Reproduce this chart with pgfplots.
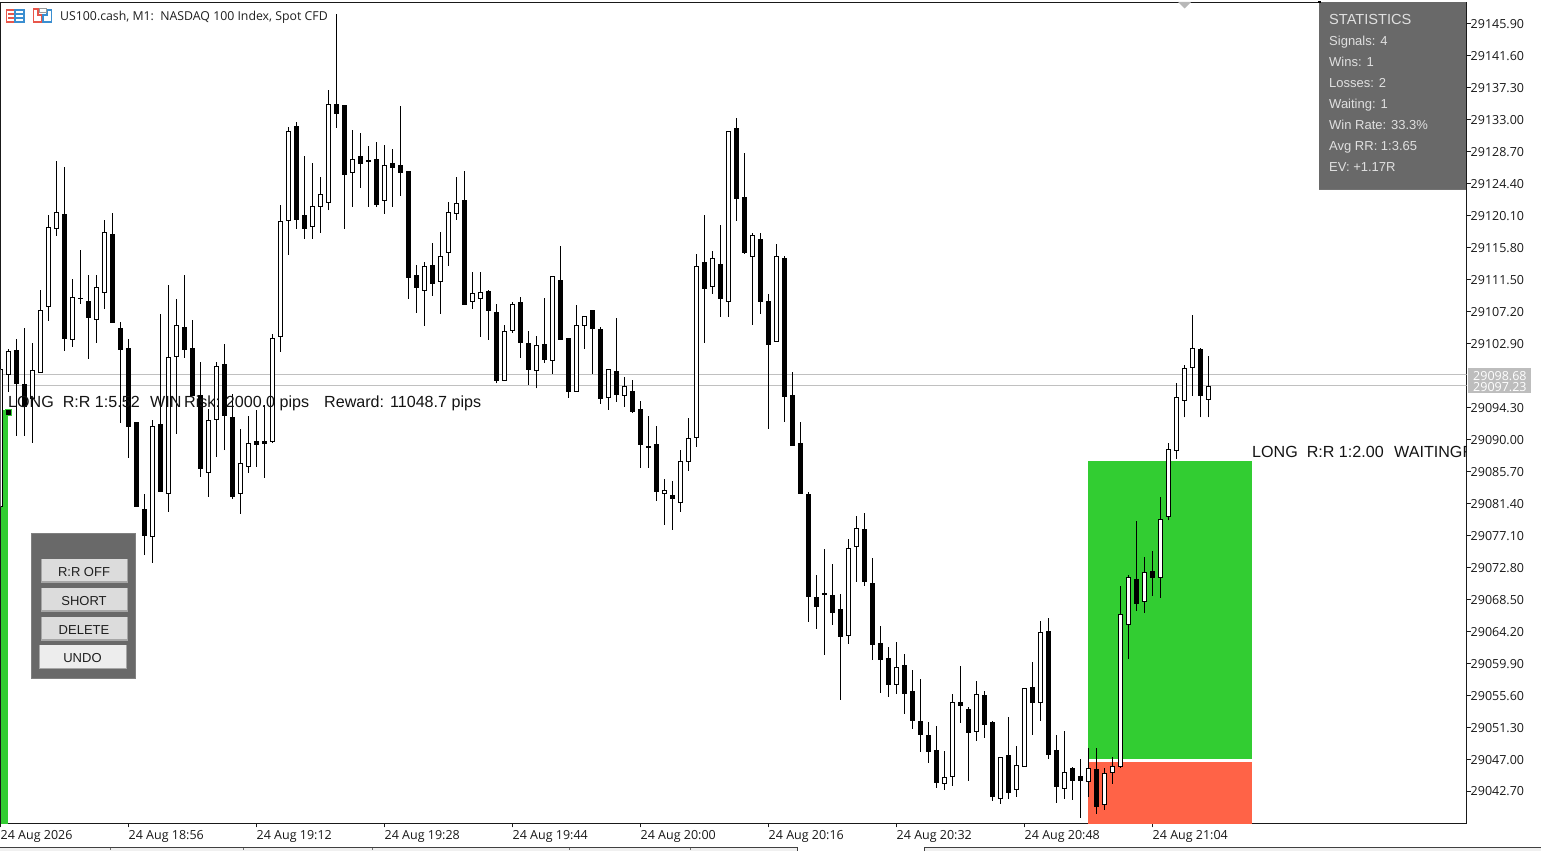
\documentclass[border=0pt]{standalone}
\usepackage{pgfplots}
\usepackage{pgfplotstable}
\usepackage{fontspec}
\pgfplotsset{compat=1.18}
\setmainfont{Liberation Sans}
\newfontfamily\tah{Open Sans}
\definecolor{grn}{HTML}{32CD32}
\definecolor{tom}{HTML}{FF6347}
\definecolor{dimg}{HTML}{696969}
\definecolor{btn}{HTML}{DCDCDC}
\definecolor{pl}{HTML}{C0C0C0}
\definecolor{tag}{HTML}{BDBDBD}
\definecolor{icr}{HTML}{E8564A}
\definecolor{icb}{HTML}{3B8ED0}
\pgfplotstableread{
k open high low close
0 29080.95 29100.42 29080.91 29099.44
1 29098.77 29102.13 29096.43 29101.90
4 29095.49 29102.94 29089.57 29099.31
5 29099.04 29110.11 29099.04 29107.38
6 29107.86 29120.20 29105.98 29118.55
7 29118.41 29127.47 29117.42 29120.57
9 29103.42 29111.59 29102.48 29109.13
10 29108.97 29115.49 29108.27 29109.03
12 29106.17 29112.13 29103.02 29110.47
13 29109.80 29119.53 29107.59 29117.87
19 29076.92 29092.62 29073.42 29091.77
21 29082.70 29110.78 29080.28 29101.05
22 29101.14 29108.90 29090.74 29105.36
26 29085.53 29094.10 29082.30 29092.58
27 29092.71 29100.38 29087.68 29099.84
30 29082.70 29091.41 29080.01 29086.79
31 29086.34 29093.16 29085.53 29089.48
34 29089.66 29104.15 29089.52 29103.61
35 29103.83 29121.55 29101.81 29119.35
36 29119.49 29132.04 29114.82 29131.46
39 29118.63 29127.20 29117.01 29121.37
40 29121.37 29125.31 29117.82 29122.99
41 29121.91 29137.02 29120.87 29135.10
44 29125.89 29131.64 29121.32 29127.70
46 29127.40 29129.49 29121.32 29127.47
48 29122.18 29129.62 29120.38 29126.89
53 29110.07 29113.84 29105.31 29113.30
55 29111.28 29117.87 29106.92 29114.64
56 29115.18 29121.95 29113.38 29120.57
57 29120.43 29125.31 29119.57 29121.78
59 29108.59 29112.53 29107.59 29109.67
60 29108.99 29112.53 29103.83 29109.80
63 29097.96 29105.40 29097.96 29104.55
64 29104.63 29108.50 29104.37 29108.19
67 29099.31 29103.92 29096.88 29102.67
69 29100.65 29111.90 29098.85 29111.90
72 29096.43 29108.09 29096.43 29105.36
73 29105.31 29106.57 29102.21 29106.57
76 29095.62 29099.44 29094.01 29099.44
78 29095.94 29098.40 29094.41 29097.15
83 29082.76 29084.68 29078.53 29083.11
85 29081.55 29088.58 29080.28 29087.06
86 29087.06 29092.89 29085.80 29090.16
87 29090.29 29114.95 29089.03 29113.30
89 29110.61 29115.36 29109.61 29114.38
91 29108.54 29131.46 29106.52 29131.46
94 29114.64 29117.74 29105.44 29117.47
97 29103.21 29116.26 29103.21 29114.64
103 29069.14 29075.22 29061.04 29069.21
106 29063.65 29076.57 29062.52 29075.36
107 29075.63 29079.66 29070.86 29078.05
112 29057.06 29062.71 29055.79 29059.34
118 29043.74 29048.08 29042.88 29044.54
119 29044.68 29055.71 29043.41 29054.64
122 29050.68 29057.50 29049.47 29055.71
125 29041.72 29047.24 29040.99 29047.24
127 29042.93 29048.76 29041.94 29046.16
128 29046.00 29056.52 29046.00 29056.52
130 29054.64 29065.57 29052.16 29064.05
133 29043.01 29050.77 29041.67 29045.22
136 29043.95 29048.49 29041.94 29045.75
138 29040.91 29045.80 29040.19 29045.08
139 29045.16 29047.28 29043.68 29046.03
140 29045.97 29070.24 29045.84 29066.48
141 29065.08 29071.72 29060.50 29071.45
143 29068.17 29074.15 29066.69 29072.13
145 29071.40 29082.26 29068.71 29079.26
146 29079.61 29089.48 29079.16 29088.62
147 29088.54 29097.56 29087.41 29095.67
148 29095.27 29099.98 29092.98 29099.58
149 29099.71 29106.75 29095.85 29102.27
151 29095.40 29101.19 29092.98 29097.15
}\bull
\pgfplotstableread{
k open high low close
2 29102.00 29103.48 29090.51 29097.50
3 29097.42 29104.96 29090.51 29094.41
8 29120.20 29126.66 29101.94 29103.52
11 29108.59 29112.13 29100.87 29106.38
14 29117.51 29120.47 29105.71 29105.71
15 29104.96 29105.80 29092.26 29102.08
16 29102.27 29103.52 29087.55 29091.72
17 29092.31 29092.31 29080.95 29080.95
18 29080.64 29082.66 29074.45 29077.05
20 29091.95 29106.84 29082.97 29082.97
23 29105.13 29112.13 29101.00 29102.08
24 29102.27 29106.07 29095.98 29095.98
25 29095.85 29100.42 29084.99 29086.03
28 29100.02 29102.84 29088.58 29093.20
29 29093.02 29096.12 29081.99 29082.26
32 29089.66 29093.96 29086.34 29089.30
33 29089.79 29094.64 29084.82 29089.39
37 29132.04 29132.71 29118.36 29119.53
38 29120.07 29128.14 29117.01 29118.36
42 29135.10 29147.25 29131.95 29133.83
43 29134.96 29135.00 29118.36 29125.68
45 29128.10 29131.23 29123.88 29127.16
47 29127.70 29130.02 29121.32 29121.59
49 29127.06 29129.08 29121.32 29126.57
50 29126.89 29134.87 29122.80 29125.89
51 29126.08 29126.08 29108.94 29111.77
52 29112.09 29113.43 29107.06 29110.42
54 29113.43 29116.43 29109.34 29110.96
58 29122.18 29126.08 29108.19 29108.19
61 29109.94 29110.11 29103.42 29107.33
62 29107.11 29108.23 29097.56 29097.91
65 29108.46 29109.17 29101.00 29103.02
66 29102.94 29104.59 29097.33 29099.39
68 29102.80 29108.99 29100.33 29100.73
70 29111.42 29116.03 29103.42 29103.42
71 29103.61 29103.61 29095.62 29096.43
74 29107.38 29107.42 29098.85 29104.90
75 29104.73 29105.09 29094.81 29095.49
77 29099.17 29106.34 29095.08 29096.02
79 29096.48 29098.00 29093.60 29093.74
80 29094.06 29095.18 29086.20 29089.30
81 29089.12 29093.16 29086.20 29088.89
82 29089.35 29091.81 29081.76 29082.97
84 29082.49 29084.41 29077.86 29082.03
88 29113.84 29120.16 29103.02 29110.29
90 29113.57 29118.82 29106.52 29108.94
92 29131.77 29133.21 29119.43 29122.39
93 29122.58 29128.54 29115.00 29115.09
95 29116.93 29117.78 29106.92 29108.54
96 29108.59 29109.53 29091.45 29102.75
98 29114.38 29114.69 29092.39 29095.81
99 29095.85 29099.04 29089.16 29089.16
100 29089.52 29092.31 29082.70 29082.70
101 29082.53 29082.89 29065.48 29068.84
102 29068.67 29071.76 29064.54 29067.50
104 29069.07 29073.24 29065.08 29066.69
105 29067.15 29069.21 29054.99 29063.46
108 29077.91 29080.11 29070.32 29070.86
109 29070.65 29074.01 29060.37 29062.39
110 29062.57 29064.90 29055.93 29060.37
111 29060.56 29062.04 29055.39 29057.00
113 29059.62 29061.13 29053.10 29055.79
114 29056.12 29058.94 29051.08 29052.16
115 29052.08 29057.73 29047.99 29050.28
116 29050.20 29051.94 29046.51 29047.99
117 29048.18 29051.41 29043.14 29043.82
120 29054.64 29059.48 29051.89 29054.18
121 29053.69 29053.96 29044.09 29050.55
123 29055.58 29056.16 29049.87 29051.62
124 29051.94 29052.08 29041.40 29041.94
126 29047.51 29052.62 29041.67 29042.47
129 29056.66 29060.06 29050.28 29054.58
131 29064.20 29065.98 29047.05 29047.58
132 29048.18 29050.24 29041.13 29043.28
134 29045.75 29045.89 29041.53 29044.14
135 29044.72 29047.01 29039.11 29044.09
137 29045.53 29048.49 29039.65 29040.59
142 29071.19 29078.99 29066.96 29067.90
144 29072.26 29074.99 29068.94 29071.40
150 29102.17 29102.27 29092.98 29095.89
}\bear
\pgfplotsset{
  wick/.style={draw=none,mark=none,forget plot,
    error bars/.cd,y dir=plus,y explicit,error mark=none,
    error bar style={line width=0.9bp,black}},
  body/.style={draw=none,mark=none,forget plot,
    error bars/.cd,y dir=plus,y explicit,error mark=none,
    draw error bar/.code 2 args={%
      \path ##1 ++(-2bp,0) coordinate (aa);
      \path ##2 ++(2bp,0) coordinate (bb);
      \filldraw[line width=1bp,draw=black,fill=#1] (aa) rectangle (bb);}}
}
\begin{document}
\begin{tikzpicture}[x=1bp,y=1bp]
\path[use as bounding box,fill=white] (0,0) rectangle (1541,851);
\begin{axis}[
  at={(0.5bp,27.5bp)},anchor=south west,scale only axis,
  width=1466bp,height=821bp,
  xmin=0,xmax=183.25,ymin=29038.33,ymax=29148.79,
  axis line style={line width=1bp,black!90},
  tick style={line width=1bp,black!90},
  major tick length=4bp,
  tick align=outside,
  ytick pos=right,xtick pos=bottom,
  xtick={0,16,32,48,64,80,96,112,128,144},
  xticklabels={24 Aug 2026,24 Aug 18:56,24 Aug 19:12,24 Aug 19:28,24 Aug 19:44,24 Aug 20:00,24 Aug 20:16,24 Aug 20:32,24 Aug 20:48,24 Aug 21:04},
  ytick={29145.9,29141.6,29137.3,29133.0,29128.7,29124.4,29120.1,29115.8,29111.5,29107.2,29102.9,29094.3,29090.0,29085.7,29081.4,29077.1,29072.8,29068.5,29064.2,29059.9,29055.6,29051.3,29047.0,29042.7},
  scaled y ticks=false,
  /pgf/number format/.cd,fixed,fixed zerofill,precision=2,1000 sep={},assume math mode=true,
  /pgfplots/.cd,
  yticklabel style={anchor=west,xshift=-2bp,yshift=-0.5bp,font=\tah\fontsize{12.5bp}{14bp}\selectfont,text=black!90,inner sep=2bp},
  xticklabel style={anchor=north west,xshift=-2bp,yshift=-0.7bp,font=\tah\fontsize{12.5bp}{14bp}\selectfont,text=black!90,inner sep=2bp},
  clip=true,
]
% trade boxes
\addplot[fill=grn,draw=none,forget plot] coordinates {(0,29038.33)(0.94,29038.33)(0.94,29093.96)(0,29093.96)} --cycle;
\addplot[fill=grn,draw=none,forget plot] coordinates {(135.94,29047.01)(156.44,29047.01)(156.44,29087.10)(135.94,29087.10)} --cycle;
\addplot[fill=tom,draw=none,forget plot] coordinates {(135.94,29038.33)(156.44,29038.33)(156.44,29046.60)(135.94,29046.60)} --cycle;
% price lines
\addplot[pl,line width=1bp,forget plot] coordinates {(0,29098.68)(183.25,29098.68)};
\addplot[pl,line width=1bp,forget plot] coordinates {(0,29097.23)(183.25,29097.23)};
% candles
\addplot[wick] table[x=k,y=low,y error expr=\thisrow{high}-\thisrow{low}] {\bull};
\addplot[wick] table[x=k,y=low,y error expr=\thisrow{high}-\thisrow{low}] {\bear};
\addplot[body=white] table[x=k,y=open,y error expr=\thisrow{close}-\thisrow{open}] {\bull};
\addplot[body=black] table[x=k,y=close,y error expr=\thisrow{open}-\thisrow{close}] {\bear};
\addplot[only marks,mark=square*,mark size=3.2bp,mark options={fill=black,draw=grn,line width=1bp},forget plot] coordinates {(1.03,29093.6)};
\end{axis}
% overlays (pixel positions; y measured up from the page foot)
\def\T#1{\fontsize{#1bp}{#1bp}\selectfont}
\begin{scope}[every node/.style={anchor=base west,inner sep=0,text=black!92,font=\T{16.1}}]
\node at (8,443) {LONG\ \ R:R 1:5.52};
\node at (150,443) {WIN};
\node at (184,443) {Risk: 2000.0 pips};
\node at (324,443) {Reward: 11048.7 pips};
\begin{scope}
\clip (1200,380) rectangle (1466,420);
\node at (1252,393.5) {LONG\ \ R:R 1:2.00};
\node at (1394,393.5) {WAITINGRisk};
\end{scope}
\end{scope}
% price tags
\fill[tag] (1468,458.3) rectangle (1531,483);
\node[anchor=base west,inner sep=0,text=white,font=\tah\T{12.5}] at (1473,470.3) {29098.68};
\fill[tag] (1468,458.3) rectangle (1531,470);
\node[anchor=base west,inner sep=0,text=white,font=\tah\T{12.5}] at (1473,459.3) {29097.23};
% stats
\fill[dimg] (1319,661) rectangle (1466,848.5);
\fill[black!55] (1319,661) rectangle (1466,661.8);
\begin{scope}[every node/.style={anchor=base west,inner sep=0,text=black!12,font=\T{13}}]
\node[font=\T{14.6}] at (1329,826) {STATISTICS};
\node at (1329,805.2) {Signals: 4};
\node at (1329,784.2) {Wins: 1};
\node at (1329,763.2) {Losses: 2};
\node at (1329,742.2) {Waiting: 1};
\node at (1329,721.2) {Win Rate: 33.3\%};
\node at (1329,700.2) {Avg RR: 1:3.65};
\node at (1329,679.2) {EV: +1.17R};
\end{scope}
% control panel
\filldraw[fill=dimg,draw=black!50,line width=0.8] (31.4,173) rectangle (135.6,317.5);
\def\B#1#2#3#4#5#6#7{%
  \fill[black!35] (#1,#4) rectangle (#3,#2);
  \fill[#5] (#1+0.5,#4+1.5) rectangle (#3-1,#2);
  \node[anchor=base,inner sep=0,text=black!88,font=\T{13}] at ({(#1+#3)/2-0.5},#7) {#6};}
\B{41}{291.5}{128}{268}{btn}{R:R OFF}{274}
\B{41}{262.5}{128}{239}{btn}{SHORT}{245}
\B{41}{233.5}{128}{210}{btn}{DELETE}{216}
\B{39}{205.5}{127}{181.5}{black!7}{UNDO}{188}
% tab strip
\fill[black!6] (0,0) rectangle (797,3.3);
\fill[black!6] (924,0) rectangle (1541,3.3);
\draw[black!75,line width=0.9] (0,3.3) -- (797,3.3) -- (797,0);
\draw[black!75,line width=0.9] (924,0) -- (924,3.3) -- (1541,3.3);
\draw[black!55,line width=0.7] (110,3.3) -- (110,1) (243.5,3.3) -- (243.5,1) (372,3.3) -- (372,1) (569.5,3.3) -- (569.5,1) (690,3.3) -- (690,1);
% title & icons
\node[anchor=base west,inner sep=0,text=black!88,font=\tah\T{12.3}] at (60,830) {US100.cash, M1:\ \ NASDAQ 100 Index, Spot CFD};
\begin{scope}[line width=1.2bp]
\draw[icr] (6.5,829) rectangle (15,841);
\draw[icb] (15,829) rectangle (24,841);
\draw[icr,line width=1.1bp] (8,833) -- (14,833) (8,837) -- (14,837);
\draw[icb,line width=1.1bp] (16,833) -- (23,833) (16,837) -- (23,837);
\draw[icr] (33.5,829) -- (42,829) -- (42,836) -- (38,836) -- (38,842) -- (33.5,842) -- cycle;
\draw[icb] (43,829) -- (51.5,829) -- (51.5,841) -- (47,841) -- (47,836) -- (43,836) -- cycle;
\draw[black!40,line width=1bp] (39,838) rectangle (46,842);
\end{scope}
% grid-shift marker
\fill[black!28] (1178,849) -- (1191,849) -- (1184.5,842.5) -- cycle;
\fill[black] (1317.5,847.5) rectangle (1320.5,850);
\end{tikzpicture}
\end{document}
